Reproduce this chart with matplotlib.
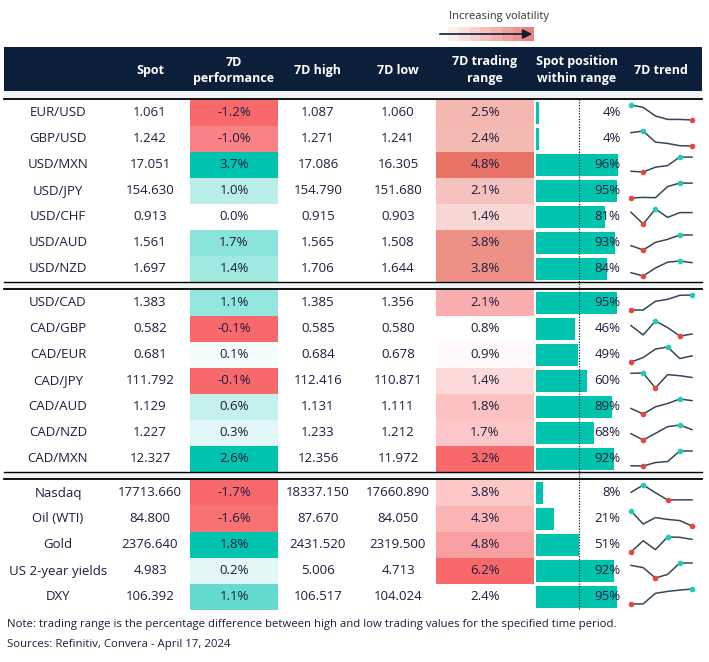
import numpy as np
import matplotlib.pyplot as plt
from matplotlib.colors import to_rgb
from matplotlib.patches import Rectangle

plt.rcParams['font.family'] = ['Open Sans', 'DejaVu Sans']

# ---- data ----
names = ['EUR/USD', 'GBP/USD', 'USD/MXN', 'USD/JPY', 'USD/CHF', 'USD/AUD', 'USD/NZD',
         'USD/CAD', 'CAD/GBP', 'CAD/EUR', 'CAD/JPY', 'CAD/AUD', 'CAD/NZD', 'CAD/MXN',
         'Nasdaq', 'Oil (WTI)', 'Gold', 'US 2-year yields', 'DXY']
group_sizes = [7, 7, 5]
spot = [1.061, 1.242, 17.051, 154.630, 0.913, 1.561, 1.697,
        1.383, 0.582, 0.681, 111.792, 1.129, 1.227, 12.327,
        17713.660, 84.800, 2376.640, 4.983, 106.392]
perf = [-1.2, -1.0, 3.7, 1.0, 0.0, 1.7, 1.4,
        1.1, -0.1, 0.1, -0.1, 0.6, 0.3, 2.6,
        -1.7, -1.6, 1.8, 0.2, 1.1]
high = [1.087, 1.271, 17.086, 154.790, 0.915, 1.565, 1.706,
        1.385, 0.585, 0.684, 112.416, 1.131, 1.233, 12.356,
        18337.150, 87.670, 2431.520, 5.006, 106.517]
low = [1.060, 1.241, 16.305, 151.680, 0.903, 1.508, 1.644,
       1.356, 0.580, 0.678, 110.871, 1.111, 1.212, 11.972,
       17660.890, 84.050, 2319.500, 4.713, 104.024]
trade_range = [2.5, 2.4, 4.8, 2.1, 1.4, 3.8, 3.8,
               2.1, 0.8, 0.9, 1.4, 1.8, 1.7, 3.2,
               3.8, 4.3, 4.8, 6.2, 2.4]
position = [4, 4, 96, 95, 81, 93, 84,
            95, 46, 49, 60, 89, 68, 92,
            8, 21, 51, 92, 95]
# relative daily levels over the 7 days
trend = [
    [1.00, 0.84, 0.27, 0.04, 0.04, 0.00],
    [0.89, 1.00, 0.26, 0.17, 0.02, 0.00],
    [0.05, 0.00, 0.32, 0.43, 1.00, 0.99],
    [0.00, 0.04, 0.02, 0.76, 1.00, 0.99],
    [0.78, 0.00, 1.00, 0.44, 0.76, 0.76],
    [0.29, 0.00, 0.51, 0.71, 1.00, 1.00],
    [0.22, 0.00, 0.53, 0.92, 1.00, 0.89],
    [0.00, 0.00, 0.58, 0.71, 0.98, 1.00],
    [0.69, 0.07, 1.00, 0.56, 0.00, 0.13],
    [0.00, 0.30, 0.86, 1.00, 0.23, 0.41],
    [0.98, 1.00, 0.00, 0.89, 0.82, 0.70],
    [0.37, 0.00, 0.48, 0.70, 1.00, 0.89],
    [0.42, 0.00, 0.44, 0.89, 1.00, 0.69],
    [0.02, 0.00, 0.23, 0.30, 1.00, 1.00],
    [0.51, 1.00, 0.49, 0.00, 0.01, 0.01],
    [1.00, 0.13, 0.56, 0.44, 0.36, 0.00],
    [0.00, 0.75, 0.16, 1.00, 0.98, 0.84],
    [0.84, 0.69, 0.00, 0.24, 1.00, 1.00],
    [0.00, 0.01, 0.71, 0.84, 0.93, 1.00],
]
headers = ['Spot', '7D\nperformance', '7D high', '7D low', '7D trading\nrange',
           'Spot position\nwithin range', '7D trend']
range_from_zero = [True, False, False]
range_red = ['#e87468', '#f8696b', '#f8696b']

# ---- style ----
NAVY = '#0b1f3b'
TXT = '#1d1d3f'
TEAL = '#00c4ae'
RED = '#f8696b'
GRAY = '#f0f3f5'
W, H = 709, 662


def blend(color, t):
    c = np.array(to_rgb(color))
    t = min(max(t, 0.0), 1.0)
    return tuple(1 - t * (1 - c))


fig = plt.figure(figsize=(W / 100, H / 100), dpi=100)
ax = fig.add_axes([0, 0, 1, 1])
ax.set_xlim(0, W)
ax.set_ylim(H, 0)
ax.axis('off')

# legend for volatility
ax.text(499, 16, 'Increasing volatility', ha='center', va='center', fontsize=8, color='#333333')
for i in range(8):
    ax.add_patch(Rectangle((448 + i * 10.75, 27), 10.75, 14,
                           color=blend('#ee7068', (i + 1) / 9), lw=0))
ax.annotate('', xy=(535, 34), xytext=(437, 34),
            arrowprops=dict(arrowstyle='-|>', color=NAVY, lw=1.2, mutation_scale=14))

# header
ax.add_patch(Rectangle((4, 47), 698, 44, color=NAVY, lw=0))
ax.add_patch(Rectangle((4, 91), 698, 7.5, color=GRAY, lw=0))
ax.plot([4, 702], [98.7, 98.7], color='black', lw=1.3)
head_x = [150, 234, 318, 398, 485, 577, 661]
for hx, h in zip(head_x, headers):
    lines = h.split('\n')
    if len(lines) == 1:
        ax.text(hx, 70.5, h, ha='center', va='center', color='white', fontsize=9, fontweight='bold')
    else:
        ax.text(hx, 62, lines[0], ha='center', va='center', color='white', fontsize=9, fontweight='bold')
        ax.text(hx, 78.5, lines[1], ha='center', va='center', color='white', fontsize=9, fontweight='bold')

# row layout
group_top = [99.5, 289.5, 479.5]
row_h = 26
centers, groups = [], []
for g, n in enumerate(group_sizes):
    for i in range(n):
        centers.append(group_top[g] + row_h * i + row_h / 2)
        groups.append(g)

# separators between groups
for g in range(1, len(group_sizes)):
    y0 = group_top[g] - 8
    ax.add_patch(Rectangle((4, y0), 698, 8, color=GRAY, lw=0))
    ax.plot([4, 702], [y0, y0], color='black', lw=1.0)
    ax.plot([4, 702], [y0 + 7.7, y0 + 7.7], color='black', lw=1.3)

perf_arr = np.array(perf)
rng_arr = np.array(trade_range)
grp_arr = np.array(groups)

for i, cy in enumerate(centers):
    g = groups[i]
    gp = perf_arr[grp_arr == g]
    gr = rng_arr[grp_arr == g]
    # performance cell colour
    v = perf[i]
    if v < 0:
        pc = blend(RED, v / gp.min())
    elif v > 0:
        pc = blend(TEAL, v / gp.max())
    else:
        pc = (1, 1, 1)
    ax.add_patch(Rectangle((190, cy - row_h / 2), 88, row_h, color=pc, lw=0))
    # trading range cell colour
    lo = 0.0 if range_from_zero[g] else gr.min()
    rc = blend(range_red[g], (trade_range[i] - lo) / (gr.max() - lo))
    ax.add_patch(Rectangle((436, cy - row_h / 2), 98, row_h, color=rc, lw=0))

    ty = cy + 0.5
    ax.text(58, ty, names[i], ha='center', va='center', fontsize=9.5, color=TXT)
    ax.text(150, ty, f'{spot[i]:.3f}', ha='center', va='center', fontsize=9.5, color=TXT)
    ax.text(234, ty, f'{perf[i]:.1f}%', ha='center', va='center', fontsize=9.5, color=TXT)
    ax.text(318, ty, f'{high[i]:.3f}', ha='center', va='center', fontsize=9.5, color=TXT)
    ax.text(398, ty, f'{low[i]:.3f}', ha='center', va='center', fontsize=9.5, color=TXT)
    ax.text(485, ty, f'{trade_range[i]:.1f}%', ha='center', va='center', fontsize=9.5, color=TXT)

# spot position bars in their own axes (0-100 scale)
axb = fig.add_axes([536 / W, 0, 85 / W, 1])
axb.set_xlim(0, 100)
axb.set_ylim(H, 0)
axb.axis('off')
axb.barh(centers, position, height=22, color=TEAL, lw=0)
axb.plot([50, 50], [99, 609], color='#222222', lw=0.9, ls=(0, (1, 1.2)))
for cy, p in zip(centers, position):
    axb.text(99.5, cy + 0.5, f'{p}%', ha='right', va='center', fontsize=9.5, color=TXT)

# sparklines
for cy, vals in zip(centers, trend):
    axs = fig.add_axes([631 / W, (H - (cy + 7.5)) / H, 61 / W, 15 / H])
    axs.axis('off')
    x = np.arange(len(vals))
    axs.plot(x, vals, color='#34465a', lw=1.1, clip_on=False)
    imax, imin = int(np.argmax(vals)), int(np.argmin(vals))
    axs.plot(x[imax], vals[imax], 'o', color='#22cbb5', ms=3, clip_on=False)
    axs.plot(x[imin], vals[imin], 'o', color='#e8473d', ms=3, clip_on=False)
    axs.set_xlim(0, len(vals) - 1)
    axs.set_ylim(0, 1)

ax.text(7, 625, 'Note: trading range is the percentage difference between high and low trading values '
        'for the specified time period.', ha='left', va='center', fontsize=8.2, color=TXT)
ax.text(7, 645, 'Sources: Refinitiv, Convera - April 17, 2024', ha='left', va='center',
        fontsize=8.2, color=TXT)

fig.savefig('out.png', dpi=100)
